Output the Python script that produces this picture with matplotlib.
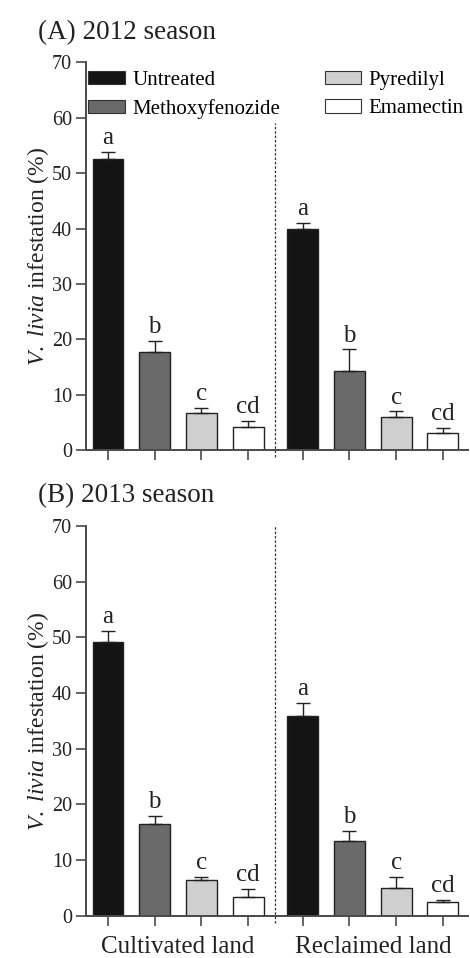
import matplotlib
matplotlib.use("Agg")
import matplotlib.pyplot as plt
from matplotlib.patches import Patch
import numpy as np

plt.rcParams['font.family'] = ['Liberation Serif', 'DejaVu Serif']
plt.rcParams['mathtext.fontset'] = 'custom'
plt.rcParams['mathtext.rm'] = 'Liberation Serif'
plt.rcParams['mathtext.it'] = 'Liberation Serif:italic'

treatments = ["Untreated", "Methoxyfenozide", "Pyredilyl", "Emamectin"]
lands = ["Cultivated land", "Reclaimed land"]
colors = ["#141414", "#6a6a6a", "#cfcfcf", "#ffffff"]

# values per land, ordered by treatment
mean_2012 = {"Cultivated land": [52.5, 17.7, 6.8, 4.2],
             "Reclaimed land": [40.0, 14.3, 6.0, 3.1]}
err_2012 = {"Cultivated land": [1.3, 2.1, 0.9, 1.1],
            "Reclaimed land": [1.0, 3.9, 1.0, 1.0]}
mean_2013 = {"Cultivated land": [49.2, 16.5, 6.4, 3.4],
             "Reclaimed land": [35.8, 13.4, 5.0, 2.4]}
err_2013 = {"Cultivated land": [2.0, 1.4, 0.6, 1.4],
            "Reclaimed land": [2.5, 1.9, 2.0, 0.5]}
letters = ["a", "b", "c", "cd"]
titles = ["(A) 2012 season", "(B) 2013 season"]
yticks = [0, 10, 20, 30, 40, 50, 60, 70]

fig = plt.figure(figsize=(4.7, 9.58), dpi=100)
axA = fig.add_axes([0.183, 0.530, 0.813, 0.405])
axB = fig.add_axes([0.183, 0.044, 0.813, 0.407])

group_offsets = [0.0, 4.17]
base = np.arange(4)
width = 0.66
spine_col = "#4a4a4a"
txt_col = "#222222"

for ax, means, errs, title, dash_top in [(axA, mean_2012, err_2012, titles[0], 59),
                                         (axB, mean_2013, err_2013, titles[1], 70)]:
    all_x = []
    for off, land in zip(group_offsets, lands):
        x = base + off
        all_x.extend(x)
        m = means[land]
        e = errs[land]
        ax.bar(x, m, width=width, color=colors, edgecolor="#222222", linewidth=1.0, zorder=2)
        ax.errorbar(x, m, yerr=[np.zeros(4), e], fmt="none", ecolor="#222222",
                    elinewidth=1.0, capsize=5, capthick=1.0, zorder=3)
        for xi, mi, ei, lt in zip(x, m, e, letters):
            ax.text(xi, mi + ei + 0.5, lt, ha="center", va="bottom", fontsize=18, color=txt_col)
    ax.plot([3.58, 3.58], [-1.3, dash_top], ls=(0, (2, 1.5)), color="#333333", lw=0.9,
            clip_on=False, zorder=1)
    ax.set_xlim(-0.47, 7.71)
    ax.set_ylim(0, 70)
    ax.set_yticks(yticks)
    ax.set_xticks(all_x)
    ax.tick_params(axis="both", direction="out", length=7, width=1.2, colors=spine_col,
                   labelsize=14.5, labelcolor=txt_col)
    ax.tick_params(axis="y", pad=3)
    for s in ["top", "right"]:
        ax.spines[s].set_visible(False)
    for s in ["left", "bottom"]:
        ax.spines[s].set_color(spine_col)
        ax.spines[s].set_linewidth(1.4)
    ax.set_ylabel(r"$\mathit{V.\ livia}$ infestation (%)", fontsize=17, color=txt_col, labelpad=1)
    ax.text(-0.126, 1.045, title, transform=ax.transAxes, fontsize=19.5, color=txt_col,
            ha="left", va="bottom")

axA.set_xticklabels([])
axB.set_xticklabels([])
for off, land in zip(group_offsets, lands):
    axB.text(off + 1.5, -3.6, land, ha="center", va="top", fontsize=18, color=txt_col)

handles = [Patch(facecolor=c, edgecolor="#333333", linewidth=0.8) for c in colors]
fig.legend(handles, treatments, ncol=2, loc="upper left", bbox_to_anchor=(0.188, 0.926),
           frameon=False, fontsize=15, handlelength=1.75, handleheight=0.6,
           handletextpad=0.35, columnspacing=2.15, labelspacing=0.45, borderaxespad=0,
           borderpad=0)

fig.savefig("out.png", dpi=100, facecolor="white")
